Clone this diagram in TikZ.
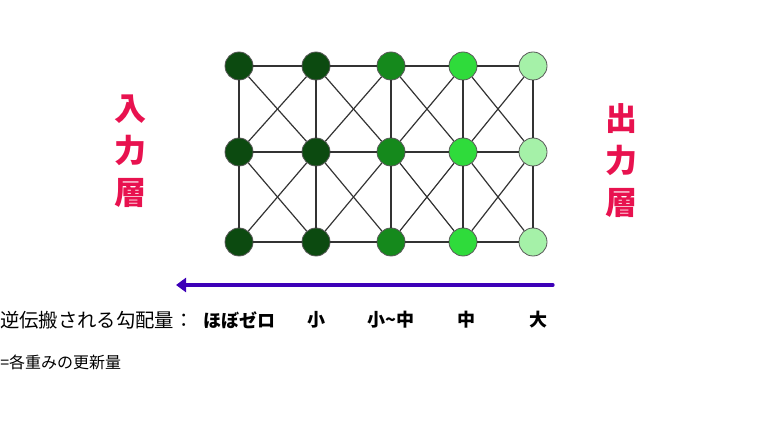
\documentclass[tikz,border=0pt]{standalone}
\usepackage{fontspec}
\usepackage{tikz}
\usetikzlibrary{arrows.meta}
\newfontfamily\jpfont{Noto Sans CJK JP}
\definecolor{gdark}{HTML}{0C4A10}
\definecolor{gmid}{HTML}{15891C}
\definecolor{glight}{HTML}{2FDB3B}
\definecolor{gpale}{HTML}{A5F1A8}
\definecolor{layerred}{HTML}{E8124F}
\definecolor{gradblue}{HTML}{3D00B8}

\begin{document}
\begin{tikzpicture}[x=0.75pt,y=-0.75pt,
    unit/.style={circle,draw=black!65,line width=0.6pt,minimum size=21pt,inner sep=0pt},
    link/.style={draw=black!80,line width=0.9pt},
    layer/.style={text=layerred,align=center,font=\jpfont\bfseries\fontsize{24pt}{31.5pt}\selectfont},
    grad/.style={font=\jpfont\bfseries\fontsize{13.5pt}{16pt}\selectfont}]
    \useasboundingbox (0,0) rectangle (778,438);
    % units
    \foreach \c/\x/\col in {1/239/gdark,2/316/gdark,3/391/gmid,4/463/glight,5/533/gpale} {
        \foreach \r/\y in {1/66,2/152,3/242} {
            \node[unit,fill=\col] (n\c\r) at (\x,\y) {};
        }
    }
    % links
    \foreach \c in {1,...,5} {
        \draw[link] (n\c1) -- (n\c2);
        \draw[link] (n\c2) -- (n\c3);
    }
    \foreach \c/\d in {1/2,2/3,3/4,4/5} {
        \foreach \r in {1,2,3} {
            \draw[link] (n\c\r) -- (n\d\r);
        }
        \foreach \r/\s in {1/2,2/3} {
            \draw[link] (n\c\r) -- (n\d\s);
            \draw[link] (n\c\s) -- (n\d\r);
        }
    }
    \node[layer] (inlayer) at (130,151) {入\\力\\層};
    \node[layer] (outlayer) at (621,161) {出\\力\\層};
    % gradient
    \coordinate (gradfrom) at (553,285);
    \coordinate (gradto) at (176,285);
    \draw[gradblue,line width=2.4pt,line cap=round,-{Triangle[length=7.5pt,width=10.5pt]}] (gradfrom) -- (gradto);
    \node[anchor=west,inner sep=0pt,font=\jpfont\fontsize{14.5pt}{17pt}\selectfont] (gradtitle) at (0,320) {逆伝搬される勾配量：};
    \foreach \i/\x/\t in {1/239/ほぼゼロ,2/316/小,3/391/小{\char"007E}中,4/466/中,5/538/大} {
        \node[grad] (g\i) at (\x,320) {\t};
    }
    \node[anchor=west,inner sep=0pt,font=\jpfont\fontsize{12pt}{14pt}\selectfont] (gradnote) at (0,362) {=各重みの更新量};
\end{tikzpicture}
\end{document}
